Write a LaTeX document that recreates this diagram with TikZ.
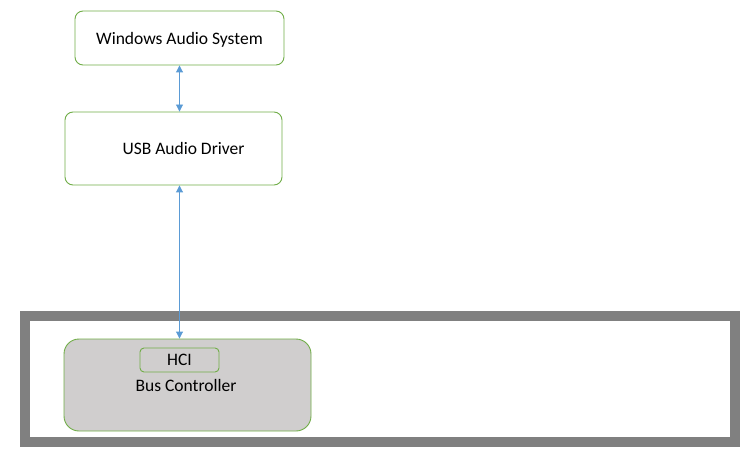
\documentclass[tikz,border=0pt]{standalone}
\usepackage{fontspec}
\setmainfont{Carlito}
\usetikzlibrary{arrows.meta}
\definecolor{boxgreen}{RGB}{112,173,71}
\definecolor{arrowblue}{RGB}{91,155,213}
\definecolor{framegray}{RGB}{128,128,128}
\definecolor{busfill}{RGB}{208,206,206}
\begin{document}
\begin{tikzpicture}[x=1pt,y=-1pt,
  txt/.style={font=\fontsize{17.5}{21}\selectfont, text=black, inner sep=0pt},
  compbox/.style={draw=boxgreen, line width=0.9pt, rounded corners=8pt, fill=white, inner sep=0pt},
  conn/.style={draw=arrowblue, line width=0.9pt, {Triangle[width=7pt,length=7pt]}-{Triangle[width=7pt,length=7pt]}}]
\useasboundingbox (0,0) rectangle (752,473);
% outer frame
\draw[framegray, line width=10pt] (25,316) rectangle (735,441.5);
% boxes
\node[compbox, minimum width=209pt, minimum height=54pt] (was) at (179.5,38) {};
\node[txt] (wast) at ([yshift=-1.5pt]was.center) {Windows Audio System};
\node[compbox, minimum width=217pt, minimum height=73pt] (usb) at (173.5,148.5) {};
\node[txt] (usbt) at ([xshift=10pt]usb.center) {USB Audio Driver};
\node[compbox, fill=busfill, rounded corners=15pt, minimum width=247pt, minimum height=92pt] (bus) at (187.5,385) {};
\node[compbox, fill=none, rounded corners=4pt, minimum width=79pt, minimum height=24pt, txt] (hci) at (179.5,360) {HCI};
\node[txt] (bust) at (186,385) {Bus Controller};
% connectors
\draw[conn] (was.south -| hci) -- (usb.north -| hci);
\draw[conn] (usb.south -| hci) -- (bus.north -| hci);
\end{tikzpicture}
\end{document}
